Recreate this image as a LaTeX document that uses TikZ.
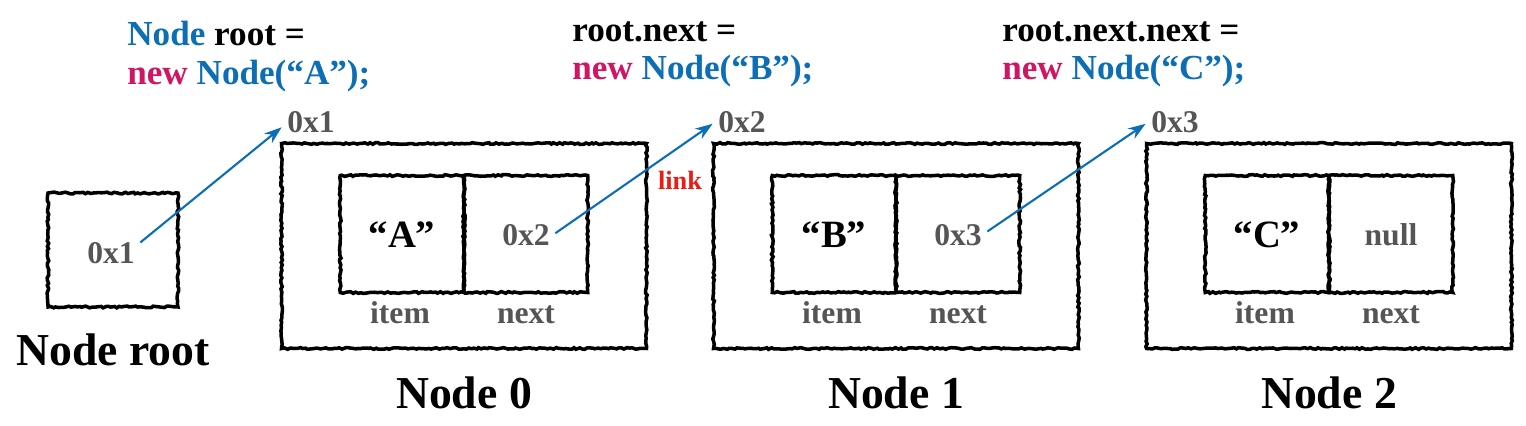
\documentclass[tikz,border=0pt]{standalone}
\usepackage{fontspec}
\setmainfont{Liberation Serif}
\usetikzlibrary{arrows.meta, decorations.pathmorphing}
\definecolor{codeblue}{RGB}{12,110,180}
\definecolor{codepink}{RGB}{206,22,100}
\definecolor{addrgray}{RGB}{85,85,85}
\definecolor{linkred}{RGB}{232,30,20}

\begin{document}
\begin{tikzpicture}[x=0.02cm, y=-0.02cm,
  rough/.style={draw, line width=2pt, decorate, decoration={random steps, segment length=1.5pt, amplitude=0.5pt}},
  frame/.style={rough, minimum width=7.3cm, minimum height=4.1cm, inner sep=0pt},
  cell/.style={rough, minimum width=2.47cm, minimum height=2.34cm, inner sep=0pt, outer sep=0pt},
  value/.style={font=\bfseries\fontsize{22}{24}\selectfont},
  addr/.style={text=addrgray, inner sep=3pt, font=\bfseries\fontsize{18}{20}\selectfont},
  field/.style={text=addrgray, anchor=base, font=\bfseries\fontsize{18}{20}\selectfont},
  title/.style={font=\bfseries\fontsize{26}{28}\selectfont},
  code/.style={anchor=north west, align=left, inner sep=0pt, font=\bfseries\fontsize{20}{22}\selectfont},
  ptr/.style={draw=codeblue, line width=1.2pt, -{Stealth[length=10pt,width=7pt]}}]
  \useasboundingbox (0,0) rectangle (1526,426);

  % code lines
  \node[code] (code0) at (127,21) {{\color{codeblue}Node} root =\\{\color{codepink}new} {\color{codeblue}Node(“A”);}};
  \node[code] (code1) at (572,21) {root.next =\\{\color{codepink}new} {\color{codeblue}Node(“B”);}};
  \node[code] (code2) at (1002,21) {root.next.next =\\{\color{codepink}new} {\color{codeblue}Node(“C”);}};

  % root reference
  \node[rough, minimum width=2.6cm, minimum height=2.28cm] (root) at (113,250) {};
  \node[addr] (rootval) at (111,253) {0x1};
  \node[title] (roottitle) at (113,350) {Node root};

  % list nodes
  \foreach \i/\cx/\val/\nxt in {0/464/A/0x2, 1/896/B/0x3, 2/1329/C/null} {
    \node[frame] (n\i) at (\cx,246) {};
    \node[cell] (item\i) at (\cx-62,234) {};
    \node[cell] (next\i) at (\cx+62,234) {};
    \node[value] (iv\i) at (\cx-62,235) {“\val”};
    \node[addr] (nv\i) at (\cx+62,235) {\nxt};
    \node[field] (itemlbl\i) at (\cx-64,323) {item};
    \node[field] (nextlbl\i) at (\cx+62,323) {next};
    \node[title] (title\i) at (\cx,393) {Node \i};
  }

  % addresses
  \node[addr] (addr0) at (311,122) {0x1};
  \node[addr] (addr1) at (742,122) {0x2};
  \node[addr] (addr2) at (1175,122) {0x3};
  \node[text=linkred, font=\bfseries\fontsize{15}{17}\selectfont] (linklbl) at (680,180) {link};

  % pointers
  \draw[ptr] ([yshift=6pt]rootval.east) -- ([yshift=-3pt]addr0.west);
  \draw[ptr] ([yshift=1pt]nv0.east) -- ([yshift=-1pt]addr1.west);
  \draw[ptr] ([yshift=2pt]nv1.east) -- ([yshift=-1pt]addr2.west);
\end{tikzpicture}
\end{document}
